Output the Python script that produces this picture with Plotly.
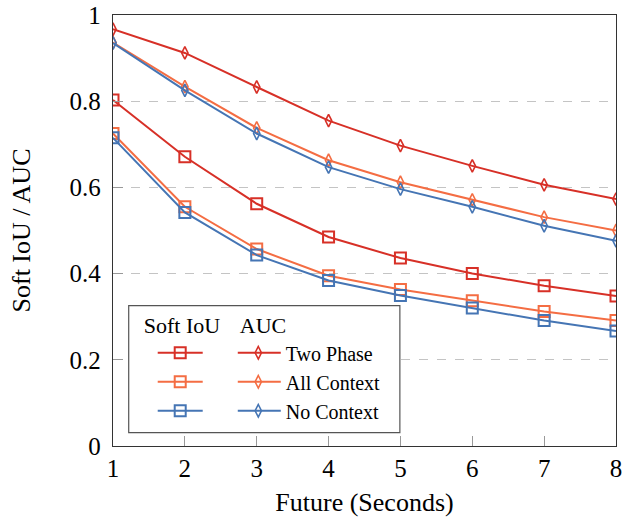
import plotly.graph_objects as go

seconds = [1, 2, 3, 4, 5, 6, 7, 8]
methods = ["Two Phase", "All Context", "No Context"]
colors = ["#d73027", "#f46d43", "#4575b4"]

iou_two_phase = [0.803, 0.671, 0.562, 0.485, 0.436, 0.400, 0.372, 0.348]
iou_all_context = [0.725, 0.555, 0.457, 0.395, 0.363, 0.337, 0.312, 0.291]
iou_no_context = [0.715, 0.542, 0.443, 0.384, 0.349, 0.320, 0.291, 0.267]

auc_two_phase = [0.967, 0.912, 0.833, 0.755, 0.697, 0.650, 0.606, 0.573]
auc_all_context = [0.936, 0.834, 0.738, 0.663, 0.612, 0.571, 0.531, 0.500]
auc_no_context = [0.935, 0.825, 0.725, 0.647, 0.596, 0.555, 0.511, 0.476]

iou = [iou_two_phase, iou_all_context, iou_no_context]
auc = [auc_two_phase, auc_all_context, auc_no_context]

y_ticks = [0, 0.2, 0.4, 0.6, 0.8, 1]
y_tick_labels = ["0", "0.2", "0.4", "0.6", "0.8", "1"]

FONT = "Liberation Serif"

fig = go.Figure()

for name, col, vals in zip(methods, colors, iou):
    fig.add_trace(go.Scatter(
        x=seconds, y=vals, mode="lines+markers", name="",
        line=dict(color=col, width=2),
        marker=dict(symbol="square-open", size=11, color=col, line=dict(width=2, color=col)),
        legend="legend",
    ))
for name, col, vals in zip(methods, colors, auc):
    fig.add_trace(go.Scatter(
        x=seconds, y=vals, mode="lines+markers", name=name,
        line=dict(color=col, width=2),
        marker=dict(symbol="diamond-tall-open", size=9, color=col, line=dict(width=1.6, color=col)),
        legend="legend2",
    ))

legend_common = dict(
    orientation="v", yanchor="top", xanchor="left",
    bgcolor="rgba(0,0,0,0)", borderwidth=0,
    font=dict(size=20, family=FONT, color="black"),
    itemwidth=45,
)

fig.update_layout(
    width=639, height=517,
    margin=dict(l=113, r=23, t=15, b=71, autoexpand=False),
    paper_bgcolor="white", plot_bgcolor="white",
    font=dict(family=FONT, size=22, color="black"),
    showlegend=True,
    legend=dict(
        x=(142 - 113.3) / 502.7, y=(446.3 - 305) / 430.8,
        title=dict(text="Soft IoU", font=dict(size=22, family=FONT, color="black")),
        indentation=11, **legend_common,
    ),
    legend2=dict(
        x=(238 - 113.3) / 502.7, y=(446.3 - 305) / 430.8,
        title=dict(text="AUC", font=dict(size=22, family=FONT, color="black")),
        indentation=-7, **legend_common,
    ),
    shapes=[dict(
        type="rect", xref="paper", yref="paper", layer="above",
        x0=(129 - 113.3) / 502.7, x1=(400 - 113.3) / 502.7,
        y0=(446.3 - 433) / 430.8, y1=(446.3 - 306) / 430.8,
        line=dict(color="#555555", width=1.2), fillcolor="white",
    )],
    xaxis=dict(
        range=[1, 8], tickvals=seconds, ticktext=[str(s) for s in seconds],
        showgrid=False, zeroline=False,
        showline=True, linecolor="#333333", linewidth=1.3, mirror=True,
        ticks="inside", ticklen=10, tickcolor="#999999", tickwidth=1,
        tickfont=dict(size=25, family=FONT),
        title=dict(text="Future (Seconds)", font=dict(size=26, family=FONT), standoff=16),
    ),
    yaxis=dict(
        range=[0, 1], tickvals=y_ticks, ticktext=y_tick_labels,
        showgrid=True, gridcolor="#c4c4c4", griddash="dash", gridwidth=1,
        zeroline=False,
        showline=True, linecolor="#333333", linewidth=1.3, mirror=True,
        ticks="inside", ticklen=10, tickcolor="#999999", tickwidth=1,
        ticklabelstandoff=6,
        tickfont=dict(size=25, family=FONT),
        title=dict(text="Soft IoU / AUC", font=dict(size=26, family=FONT), standoff=31),
    ),
)

fig.write_html("out.html", config={"displayModeBar": False},
               post_script="document.body.style.margin='0px';")
